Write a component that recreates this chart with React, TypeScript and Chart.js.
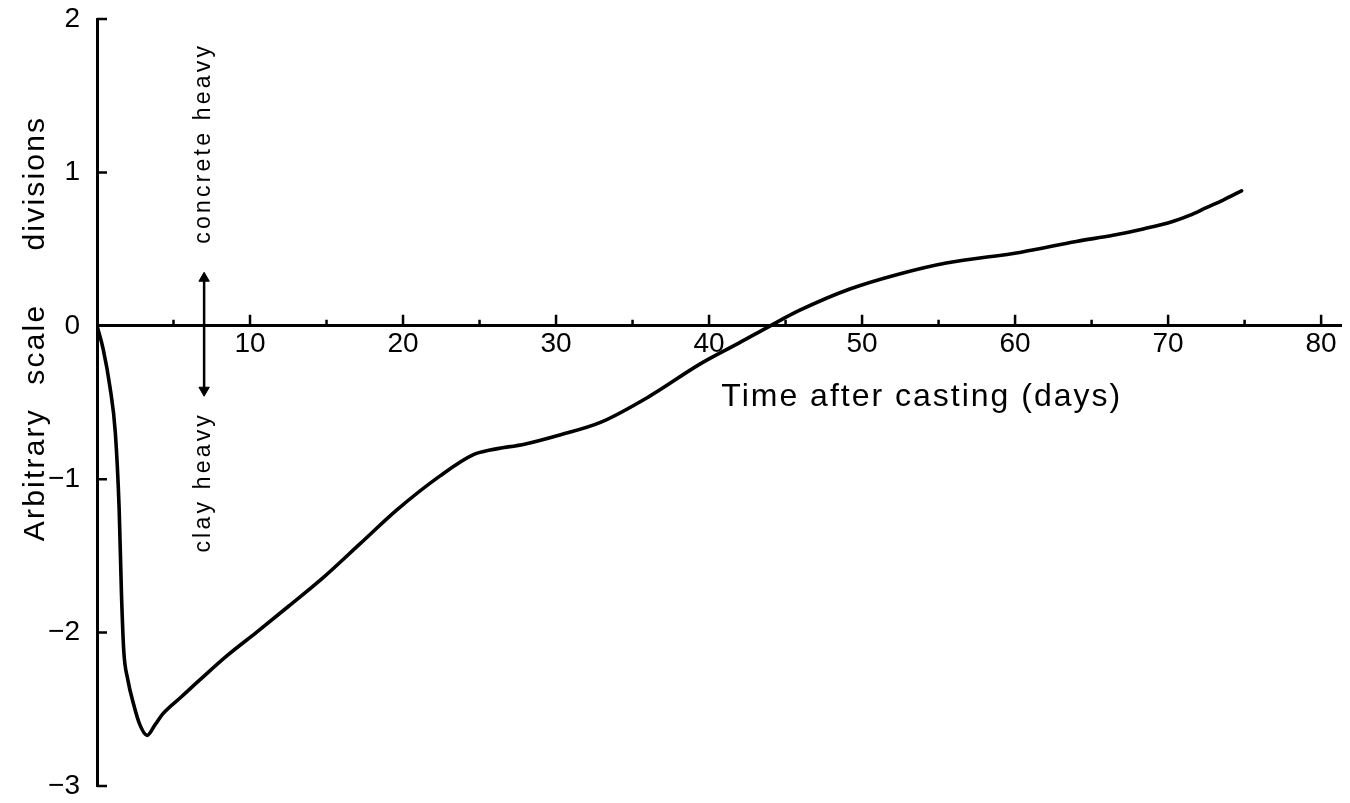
import React, { useEffect, useRef } from 'react';
import { Chart, registerables } from 'chart.js';

Chart.register(...registerables);

// ---- data ----
const DAYS = [
  0, 0.4, 0.85, 1.2, 1.45, 1.6, 1.75, 2.0, 2.4, 2.8, 3.27, 3.8, 4.3, 5.5, 6.7, 8.5,
  10.4, 12.5, 14.8, 17.2, 19.6, 22.4, 24.6, 25.7, 28, 30.3, 32.9, 36.1, 39.4, 42.0,
  44.0, 45.9, 49.2, 52.5, 55.5, 60.4, 64.0, 66.4, 68.3, 70.3, 71.4, 72.5, 73.6, 74.8,
];
const VALUES = [
  0, -0.15, -0.4, -0.7, -1.2, -1.75, -2.12, -2.3, -2.47, -2.6, -2.67, -2.6, -2.53, -2.42, -2.31, -2.15,
  -2.0, -1.83, -1.64, -1.42, -1.2, -0.98, -0.84, -0.81, -0.77, -0.71, -0.63, -0.46, -0.25, -0.11,
  0, 0.1, 0.24, 0.34, 0.41, 0.48, 0.55, 0.59, 0.63, 0.68, 0.72, 0.77, 0.82, 0.88,
];

const X_TICKS = [5, 10, 15, 20, 25, 30, 35, 40, 45, 50, 55, 60, 65, 70, 75, 80];
const X_TICK_LABELS = ['', '10', '', '20', '', '30', '', '40', '', '50', '', '60', '', '70', '', '80'];
const Y_TICKS = [-3, -2, -1, 0, 1, 2];
const Y_TICK_LABELS = ['\u22123', '\u22122', '\u22121', '0', '1', '2'];

const ARROW_X = [7, 7];
const ARROW_Y = [0.31, -0.42];
const ARROW_ROT = [0, 180];

const X_TITLE = 'Time after casting (days)';
const X_TITLE_AT = [53.9, -0.52];
const Y_TITLE_WORDS = ['Arbitrary', 'scale', 'divisions'];
const Y_TITLE_AT = [-0.97, -0.12, 0.93];
const UP_LABEL = 'concrete heavy';
const UP_LABEL_AT = 1.19;
const DOWN_LABEL = 'clay heavy';
const DOWN_LABEL_AT = -1.02;

const FAMILY = '"Liberation Sans", Arial, Helvetica, sans-serif';

const decor = {
  id: 'decor',
  afterDraw(chart: any) {
    const { ctx, chartArea, scales } = chart;
    const x = scales.x;
    const y = scales.y;
    const y0 = y.getPixelForValue(0);
    const x0 = chartArea.left;
    ctx.save();
    ctx.strokeStyle = '#000';
    ctx.lineWidth = 2.5;
    ctx.lineCap = 'butt';
    ctx.beginPath();
    X_TICKS.forEach((v) => {
      const px = x.getPixelForValue(v);
      const len = v % 10 === 0 ? 11 : 6;
      ctx.moveTo(px, y0);
      ctx.lineTo(px, y0 - len);
    });
    Y_TICKS.forEach((v) => {
      if (v === 0) return;
      const py = y.getPixelForValue(v);
      ctx.moveTo(x0, py);
      ctx.lineTo(x0 + 10, py);
    });
    ctx.stroke();

    ctx.fillStyle = '#000';
    const vtext = (text: string, px: number, py: number, font: string, ls: number) => {
      ctx.save();
      ctx.translate(px, py);
      ctx.rotate(-Math.PI / 2);
      ctx.font = font;
      (ctx as any).letterSpacing = ls + 'px';
      ctx.textAlign = 'center';
      ctx.textBaseline = 'alphabetic';
      ctx.fillText(text, 0, 0);
      ctx.restore();
    };

    // y axis title words
    Y_TITLE_WORDS.forEach((w, i) => {
      vtext(w, x0 - 53, y.getPixelForValue(Y_TITLE_AT[i]), `30px ${FAMILY}`, 2.2);
    });

    // arrow labels
    const ax = x.getPixelForValue(ARROW_X[0]) + 6;
    vtext(UP_LABEL, ax, y.getPixelForValue(UP_LABEL_AT), `23px ${FAMILY}`, 3.2);
    vtext(DOWN_LABEL, ax, y.getPixelForValue(DOWN_LABEL_AT), `23px ${FAMILY}`, 3.2);

    // x axis title
    ctx.font = `32px ${FAMILY}`;
    (ctx as any).letterSpacing = '2px';
    ctx.textAlign = 'center';
    ctx.textBaseline = 'alphabetic';
    ctx.fillText(X_TITLE, x.getPixelForValue(X_TITLE_AT[0]), y.getPixelForValue(X_TITLE_AT[1]));
    ctx.restore();
  },
};

export default function App() {
  const ref = useRef<HTMLCanvasElement | null>(null);

  useEffect(() => {
    if (!ref.current) return;
    const curve = DAYS.map((d, i) => ({ x: d, y: VALUES[i] }));
    const arrow = ARROW_X.map((d, i) => ({ x: d, y: ARROW_Y[i] }));
    const chart = new Chart(ref.current, {
      type: 'line',
      data: {
        datasets: [
          {
            data: curve,
            borderColor: '#000',
            borderWidth: 3.6,
            pointRadius: 0,
            cubicInterpolationMode: 'monotone',
            borderCapStyle: 'round',
            borderJoinStyle: 'round',
            fill: false,
          },
          {
            data: arrow,
            borderColor: '#000',
            borderWidth: 2.5,
            pointRadius: 6,
            pointStyle: 'triangle',
            pointRotation: ARROW_ROT,
            pointBackgroundColor: '#000',
            pointBorderColor: '#000',
            pointBorderWidth: 1,
            fill: false,
          },
        ],
      },
      options: {
        animation: false,
        responsive: true,
        maintainAspectRatio: false,
        events: [],
        layout: { padding: { top: 19, right: 9, bottom: 17, left: 0 } },
        plugins: {
          legend: { display: false },
          tooltip: { enabled: false },
          title: { display: false },
        },
        scales: {
          x: {
            type: 'linear',
            position: { y: 0 },
            min: 0,
            max: 81.3,
            afterBuildTicks: (s: any) => {
              s.ticks = X_TICKS.map((v) => ({ value: v }));
            },
            afterFit: (s: any) => {
              s.height = 0;
            },
            grid: { display: true, drawOnChartArea: false, drawTicks: false },
            border: { display: true, color: '#000', width: 3 },
            ticks: {
              autoSkip: false,
              maxRotation: 0,
              minRotation: 0,
              padding: 2,
              color: '#000',
              font: { family: FAMILY, size: 28 },
              callback: (v: any) => {
                const i = X_TICKS.indexOf(Number(v));
                return i >= 0 ? X_TICK_LABELS[i] : '';
              },
            },
          },
          y: {
            type: 'linear',
            min: -3,
            max: 2,
            afterBuildTicks: (s: any) => {
              s.ticks = Y_TICKS.map((v) => ({ value: v }));
            },
            afterFit: (s: any) => {
              s.width = 97;
            },
            grid: {
              display: true,
              drawOnChartArea: false,
              drawTicks: true,
              tickLength: 17,
              tickColor: 'rgba(0,0,0,0)',
            },
            border: { display: true, color: '#000', width: 3 },
            ticks: {
              padding: 0,
              color: '#000',
              font: { family: FAMILY, size: 28 },
              callback: (v: any) => {
                const i = Y_TICKS.indexOf(Number(v));
                return i >= 0 ? Y_TICK_LABELS[i] : '';
              },
            },
          },
        },
      } as any,
      plugins: [decor],
    });
    return () => chart.destroy();
  }, []);

  return (
    <div style={{ position: 'absolute', left: 0, top: 0, width: 1350, height: 803, background: '#fff' }}>
      <canvas ref={ref} />
    </div>
  );
}
